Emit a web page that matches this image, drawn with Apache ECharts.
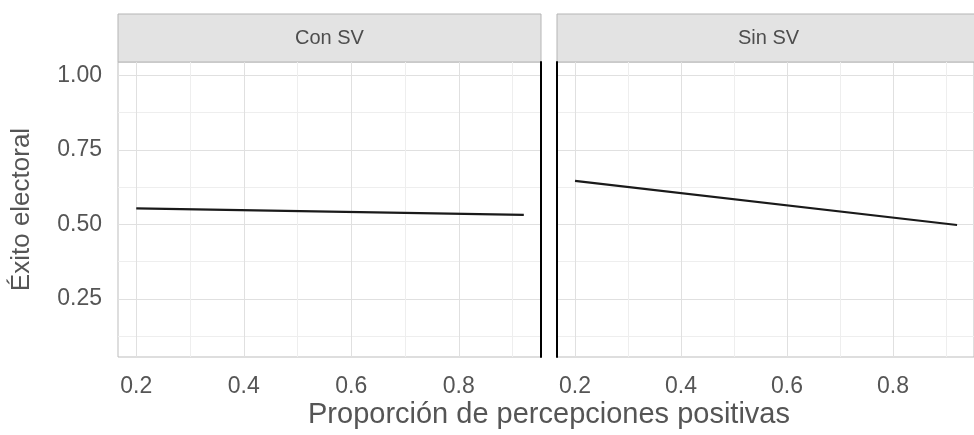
<!DOCTYPE html>
<html>
<head>
<meta charset="utf-8">
<script src="https://cdn.jsdelivr.net/npm/echarts@6/dist/echarts.min.js"></script>
<style>
html,body{margin:0;padding:0;background:#fff;}
#chart{width:974px;height:435px;}
</style>
</head>
<body>
<div id="chart"></div>
<script>
// ---- data ----
const panels = ['Con SV', 'Sin SV'];
const xValues = [0.2, 0.921];
const conSV = [0.554, 0.532];
const sinSV = [0.646, 0.498];
const xTicks = [0.2, 0.4, 0.6, 0.8];
const xMinor = [0.3, 0.5, 0.7, 0.9];
const yTicks = [0.25, 0.5, 0.75, 1.0];
const yMinor = [0.125, 0.375, 0.625, 0.875];
const xTitle = 'Proporción de percepciones positivas';
const yTitle = 'Éxito electoral';

const xRange = [0.166, 0.953];
const yRange = [0.055, 1.045];

const FONT = '"Liberation Sans", Arial, sans-serif';
const majorColor = '#e0e0e0';
const minorColor = '#eeeeee';

function xAxisDef(gridIndex, major, labels) {
  return {
    type: 'value', gridIndex: gridIndex, position: 'bottom', min: xRange[0], max: xRange[1],
    axisLine: {show: false},
    axisTick: {show: false, customValues: major ? xTicks : xMinor},
    axisLabel: {show: labels, customValues: major ? xTicks : xMinor,
      formatter: v => v.toFixed(1), color: '#555555', fontSize: 23, fontFamily: FONT, margin: 18},
    splitLine: {show: true, lineStyle: {color: major ? majorColor : minorColor, width: 1}}
  };
}
function yAxisDef(gridIndex, major, labels, extra) {
  return Object.assign({
    type: 'value', gridIndex: gridIndex, position: 'left', min: yRange[0], max: yRange[1],
    axisLine: {show: false},
    axisTick: {show: false, customValues: major ? yTicks : yMinor},
    axisLabel: {show: labels, customValues: major ? yTicks : yMinor,
      formatter: v => v.toFixed(2), color: '#555555', fontSize: 23, fontFamily: FONT, margin: 16},
    splitLine: {show: true, lineStyle: {color: major ? majorColor : minorColor, width: 1}}
  }, extra || {});
}

const grids = [
  {left: 118, top: 62, width: 423, height: 295, show: true, borderColor: '#bdbdbd', borderWidth: 1, backgroundColor: '#fff'},
  {left: 557, top: 62, width: 423, height: 295, show: true, borderColor: '#bdbdbd', borderWidth: 1, backgroundColor: '#fff'}
];

const blackLine = {show: true, lineStyle: {color: '#000', width: 2}};

const option = {
  animation: false,
  backgroundColor: '#fff',
  grid: grids,
  xAxis: [
    xAxisDef(0, false, false),
    xAxisDef(0, true, true),
    xAxisDef(1, false, false),
    xAxisDef(1, true, true)
  ],
  yAxis: [
    yAxisDef(0, false, false),
    yAxisDef(0, true, true),
    yAxisDef(0, true, false, {position: 'right', axisLine: blackLine, splitLine: {show: false}}),
    yAxisDef(1, false, false),
    yAxisDef(1, true, false, {position: 'left', axisLine: blackLine})
  ],
  series: [
    {type: 'line', name: panels[0], xAxisIndex: 1, yAxisIndex: 1, symbol: 'none',
     data: xValues.map((x, i) => [x, conSV[i]]), lineStyle: {color: '#1a1a1a', width: 2.2}},
    {type: 'line', name: panels[1], xAxisIndex: 3, yAxisIndex: 4, symbol: 'none',
     data: xValues.map((x, i) => [x, sinSV[i]]), lineStyle: {color: '#1a1a1a', width: 2.2}}
  ],
  graphic: [
    {type: 'rect', shape: {x: 118, y: 14, width: 423, height: 48}, style: {fill: '#e3e3e3', stroke: '#b5b5b5', lineWidth: 1}},
    {type: 'rect', shape: {x: 557, y: 14, width: 423, height: 48}, style: {fill: '#e3e3e3', stroke: '#b5b5b5', lineWidth: 1}},
    {type: 'text', x: 329.5, y: 38, style: {text: panels[0], fill: '#4d4d4d', font: '20px ' + FONT, textAlign: 'center', textVerticalAlign: 'middle'}},
    {type: 'text', x: 768.5, y: 38, style: {text: panels[1], fill: '#4d4d4d', font: '20px ' + FONT, textAlign: 'center', textVerticalAlign: 'middle'}},
    {type: 'text', x: 549, y: 415, style: {text: xTitle, fill: '#555555', font: '29px ' + FONT, textAlign: 'center', textVerticalAlign: 'middle'}},
    {type: 'text', x: 22, y: 209.5, rotation: Math.PI / 2, style: {text: yTitle, fill: '#555555', font: '26px ' + FONT, textAlign: 'center', textVerticalAlign: 'middle'}}
  ]
};

const chart = echarts.init(document.getElementById('chart'), null, {renderer: 'canvas'});
chart.setOption(option);
</script>
</body>
</html>
